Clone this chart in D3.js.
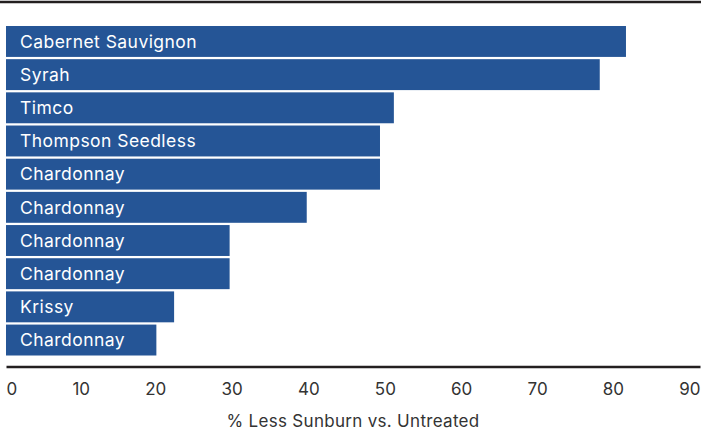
<!DOCTYPE html>
<html>
<head>
<meta charset="utf-8">
<script src="https://cdn.jsdelivr.net/npm/d3@7"></script>
<style>
  html, body { margin: 0; padding: 0; background: #fff; }
  svg { display: block; }
  text { font-family: "Inter", "Open Sans", sans-serif; }
</style>
</head>
<body>
<div id="chart"></div>
<script>
// ---- data ----
const varieties = ["Cabernet Sauvignon", "Syrah", "Timco", "Thompson Seedless", "Chardonnay",
                   "Chardonnay", "Chardonnay", "Chardonnay", "Krissy", "Chardonnay"];
const lessSunburn = [80.4, 77.0, 50.3, 48.5, 48.5, 39.0, 29.0, 29.0, 21.8, 19.5];
const tickValues = [0, 10, 20, 30, 40, 50, 60, 70, 80, 90];
const axisTitle = "% Less Sunburn vs. Untreated";

// ---- layout ----
const W = 701, H = 434;
const left = 6, right = 700;
const barTop = 26, barBottom = 355.5;
const axisY = 366.5;
const barColor = "#255596";
const lineColor = "#231f20";

const svg = d3.select("#chart").append("svg").attr("width", W).attr("height", H);

const x = d3.scaleLinear().domain([0, 90]).range([left, right]);
const y = d3.scaleBand().domain(d3.range(varieties.length))
  .range([barTop, barBottom]).paddingInner(0.068).paddingOuter(0);

// top rule
svg.append("line").attr("x1", 0).attr("x2", W).attr("y1", 2).attr("y2", 2)
  .attr("stroke", lineColor).attr("stroke-width", 2.5);

// bars
const rows = svg.append("g").selectAll("g").data(varieties).join("g");
rows.append("rect")
  .attr("x", x(0))
  .attr("y", (d, i) => y(i))
  .attr("width", (d, i) => x(lessSunburn[i]) - x(0))
  .attr("height", y.bandwidth())
  .attr("fill", barColor);
rows.append("text")
  .attr("x", x(0) + 14)
  .attr("y", (d, i) => y(i) + y.bandwidth() / 2)
  .attr("dy", "0.36em")
  .attr("fill", "#fff")
  .attr("font-size", 17.5)
  .attr("letter-spacing", "0.45px")
  .text(d => d);

// axis
const axisG = svg.append("g").attr("transform", `translate(0,${axisY})`)
  .call(d3.axisBottom(x).tickValues(tickValues).tickSize(0).tickPadding(0).tickFormat(d3.format("d")));
axisG.select(".domain").attr("stroke", lineColor).attr("stroke-width", 2.5);
axisG.selectAll(".tick text")
  .attr("font-size", 17)
  .attr("font-family", "Inter, sans-serif")
  .attr("fill", "#333")
  .attr("y", 28.5)
  .attr("dy", 0);

// distribute tick labels across the axis width (space-between)
const labels = axisG.selectAll(".tick text").nodes();
const widths = labels.map(n => n.getComputedTextLength());
const gap = ((right - left) - d3.sum(widths)) / (labels.length - 1);
let pos = left;
labels.forEach((n, i) => {
  const tv = tickValues[i];
  d3.select(n).attr("text-anchor", "start").attr("x", pos - x(tv));
  pos += widths[i] + gap;
});

// axis title
svg.append("text")
  .attr("x", (left + right) / 2)
  .attr("y", 427)
  .attr("text-anchor", "middle")
  .attr("font-size", 17)
  .attr("letter-spacing", "0.3px")
  .attr("fill", "#333")
  .text(axisTitle);
</script>
</body>
</html>
